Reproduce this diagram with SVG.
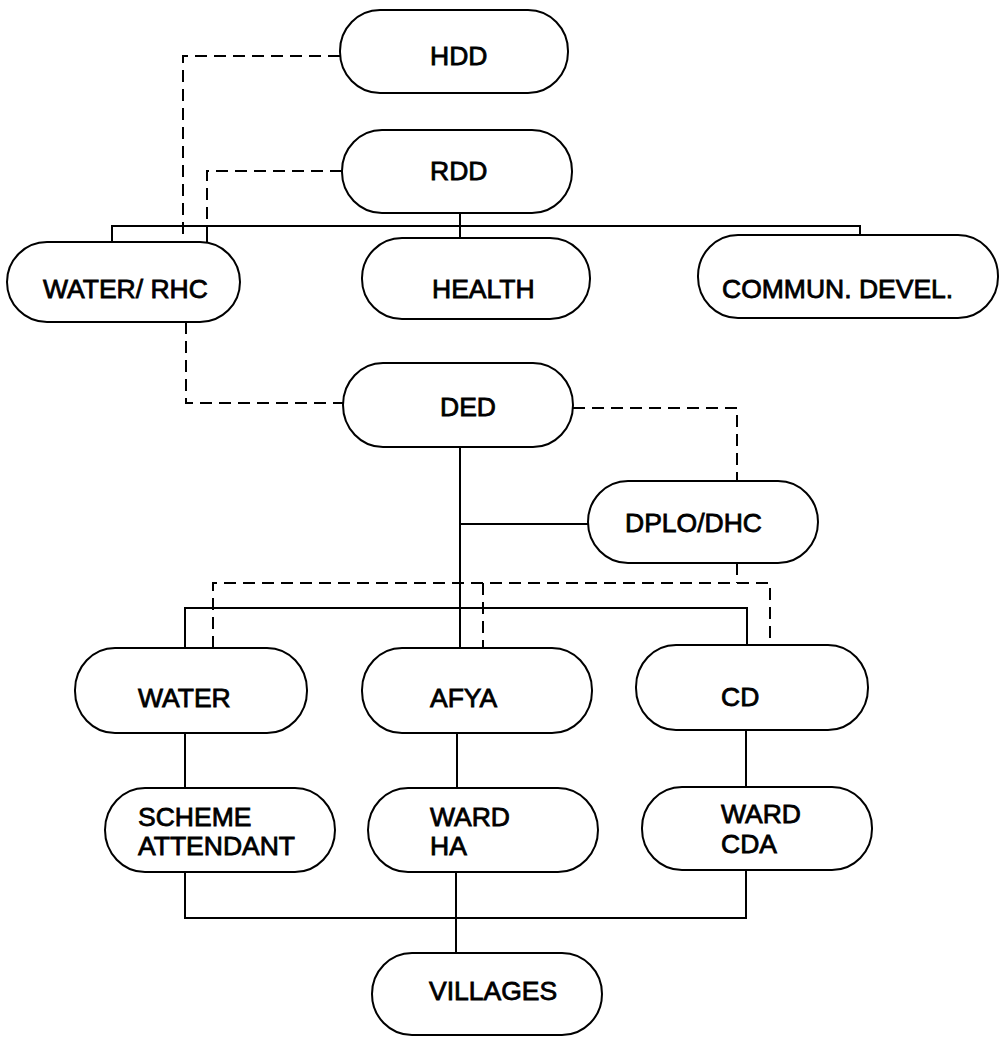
<svg xmlns="http://www.w3.org/2000/svg" width="1001" height="1048" viewBox="0 0 1001 1048">
<style>
.box{fill:#fff;stroke:#000;stroke-width:2}
.lbl{font-family:"Liberation Sans",Arial,sans-serif;font-size:26.5px;fill:#000;stroke:#000;stroke-width:0.8}
.solid{fill:none;stroke:#000;stroke-width:2}
.dash{fill:none;stroke:#000;stroke-width:2;stroke-dasharray:12 7}
</style>
<rect width="1001" height="1048" fill="#fff"/>
<g id="connectors">
<path class="solid" d="M460 213V226M112 242V226H860V235M460 226V238M207 226V242"/>
<path class="solid" d="M460 447V648M460 524H588M185 648V608H747V645"/>
<path class="solid" d="M185 733V788M457 733V788M746 730V787"/>
<path class="solid" d="M185 872V918H746V870M456 872V953"/>
<path class="dash" d="M340 56H183V242"/>
<path class="dash" d="M342 171H207V226"/>
<path class="dash" d="M186 322V403H343"/>
<path class="dash" d="M573 408H737V481"/>
<path class="dash" d="M737 563V583"/>
<path class="dash" d="M213 648V583H770V645M483 583V648"/>
</g>
<g id="HDD"><rect class="box" x="340" y="10" width="228" height="83" rx="40" ry="41"/><text class="lbl" x="430" y="65">HDD</text></g>
<g id="RDD"><rect class="box" x="342" y="130" width="230" height="83" rx="40" ry="41"/><text class="lbl" x="430" y="180">RDD</text></g>
<g id="WATER_RHC"><rect class="box" x="7" y="242" width="233" height="80" rx="40" ry="40"/><text class="lbl" x="43" y="298">WATER/ RHC</text></g>
<g id="HEALTH"><rect class="box" x="362" y="238" width="228" height="81" rx="40" ry="40"/><text class="lbl" x="432" y="298">HEALTH</text></g>
<g id="COMMUN"><rect class="box" x="698" y="235" width="300" height="83" rx="40" ry="41"/><text class="lbl" x="722" y="298">COMMUN. DEVEL.</text></g>
<g id="DED"><rect class="box" x="343" y="363" width="230" height="84" rx="40" ry="42"/><text class="lbl" x="440" y="416">DED</text></g>
<g id="DPLO_DHC"><rect class="box" x="588" y="481" width="230" height="82" rx="40" ry="41"/><text class="lbl" x="625" y="532">DPLO/DHC</text></g>
<g id="WATER"><rect class="box" x="75" y="648" width="232" height="85" rx="40" ry="42"/><text class="lbl" x="138" y="707">WATER</text></g>
<g id="AFYA"><rect class="box" x="362" y="648" width="230" height="85" rx="40" ry="42"/><text class="lbl" x="430" y="707">AFYA</text></g>
<g id="CD"><rect class="box" x="636" y="645" width="232" height="85" rx="40" ry="42"/><text class="lbl" x="721" y="706">CD</text></g>
<g id="SCHEME"><rect class="box" x="105" y="788" width="230" height="84" rx="40" ry="42"/><text class="lbl" x="138" y="826">SCHEME</text><text class="lbl" x="138" y="855">ATTENDANT</text></g>
<g id="WARD_HA"><rect class="box" x="368" y="788" width="230" height="84" rx="40" ry="42"/><text class="lbl" x="430" y="826">WARD</text><text class="lbl" x="430" y="855">HA</text></g>
<g id="WARD_CDA"><rect class="box" x="642" y="787" width="230" height="83" rx="40" ry="41"/><text class="lbl" x="721" y="823">WARD</text><text class="lbl" x="721" y="853">CDA</text></g>
<g id="VILLAGES"><rect class="box" x="372" y="953" width="230" height="82" rx="40" ry="41"/><text class="lbl" x="429" y="1000">VILLAGES</text></g>
</svg>
